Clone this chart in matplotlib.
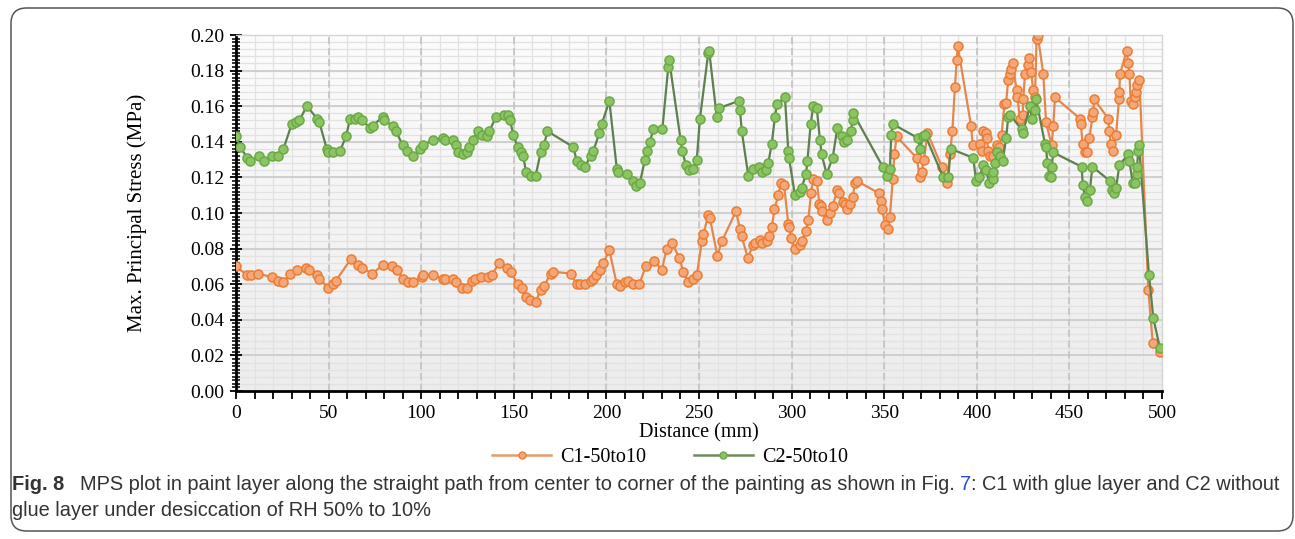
import numpy as np
import matplotlib.pyplot as plt
from matplotlib.lines import Line2D
from matplotlib.patches import FancyBboxPatch
from matplotlib.ticker import MultipleLocator, FormatStrFormatter

# C1-50to10 (with glue layer)
c1_x = [0, 6.1, 7.9, 11.7, 19.3, 22.9, 25.6, 29.2, 32.8, 37.8, 39.4, 43.9, 45.0, 49.9, 52.2, 54.0,
        61.9, 66.0, 68.2, 73.6, 79.6, 84.4, 86.8, 90.3, 93.0, 95.7, 100.3, 101.1, 106.5, 111.9, 112.9,
        117.0, 118.8, 121.9, 124.6, 127.3, 129.0, 132.1, 136.2, 138.0, 142.2, 146.5, 148.3, 152.1,
        154.3, 156.6, 158.7, 161.8, 164.5, 166.3, 169.9, 171.3, 180.7, 184.0, 185.7, 188.4, 191.5,
        193.0, 194.4, 196.5, 198.3, 201.6, 205.6, 207.3, 210.0, 211.8, 214.5, 217.8, 221.2, 225.9,
        229.9, 232.6, 235.3, 239.4, 241.5, 244.2, 246.6, 248.8, 251.5, 252.4, 255.0, 255.9, 259.9,
        262.3, 270.0, 272.1, 273.0, 276.3, 279.3, 280.2, 282.9, 283.9, 286.5, 287.9, 289.3, 290.7,
        292.8, 294.3, 295.9, 298.2, 298.8, 299.7, 301.8, 304.5, 305.4, 307.8, 309.0, 310.5, 311.7,
        313.6, 315.0, 315.7, 316.2, 318.9, 320.7, 322.2, 324.7, 325.8, 327.6, 328.8, 330.1, 331.5,
        333.0, 334.2, 335.2, 347.4, 348.1, 349.0, 350.4, 351.9, 353.1, 354.6, 355.5, 356.7, 367.5,
        369.3, 370.2, 371.5, 373.3, 381.1, 383.8, 385.5, 386.8, 388.2, 389.2, 389.7, 396.9, 397.8,
        401.8, 402.7, 403.5, 405.0, 405.3, 406.3, 407.1, 408.9, 410.7, 412.1, 413.4, 414.9, 415.8,
        417.0, 418.0, 418.5, 419.4, 421.5, 421.9, 423.3, 424.8, 425.1, 426.0, 427.8, 428.2, 429.3,
        430.5, 431.4, 432.3, 432.9, 435.9, 437.4, 440.4, 441.3, 442.2, 455.7, 456.1, 457.2, 458.4,
        459.3, 460.8, 462.4, 462.9, 463.3, 471.0, 471.5, 472.3, 473.4, 475.2, 476.8, 477.0, 477.3,
        480.9, 481.8, 482.4, 483.1, 484.5, 485.4, 486.0, 486.7, 487.8, 492.6, 495.0, 498.9]
c1_y = [0.070, 0.065, 0.065, 0.066, 0.064, 0.062, 0.061, 0.066, 0.068, 0.069, 0.068, 0.065, 0.063,
        0.058, 0.060, 0.062, 0.074, 0.071, 0.069, 0.066, 0.071, 0.070, 0.068, 0.063, 0.061, 0.061,
        0.064, 0.065, 0.065, 0.063, 0.063, 0.063, 0.061, 0.058, 0.058, 0.062, 0.063, 0.064, 0.064,
        0.065, 0.072, 0.069, 0.067, 0.060, 0.058, 0.053, 0.051, 0.050, 0.057, 0.059, 0.066, 0.067,
        0.066, 0.060, 0.060, 0.060, 0.062, 0.063, 0.065, 0.068, 0.072, 0.079, 0.060, 0.059, 0.061,
        0.062, 0.060, 0.060, 0.070, 0.073, 0.068, 0.080, 0.083, 0.075, 0.067, 0.061, 0.063, 0.065,
        0.084, 0.088, 0.099, 0.097, 0.076, 0.084, 0.101, 0.091, 0.087, 0.075, 0.082, 0.083, 0.085,
        0.083, 0.084, 0.087, 0.092, 0.102, 0.110, 0.117, 0.116, 0.094, 0.092, 0.086, 0.080, 0.082,
        0.084, 0.090, 0.096, 0.111, 0.119, 0.118, 0.105, 0.104, 0.101, 0.096, 0.100, 0.104, 0.113,
        0.111, 0.106, 0.105, 0.102, 0.105, 0.109, 0.117, 0.118, 0.111, 0.107, 0.102, 0.093, 0.091,
        0.098, 0.119, 0.133, 0.143, 0.131, 0.120, 0.123, 0.130, 0.145, 0.126, 0.117, 0.133, 0.146,
        0.171, 0.186, 0.194, 0.149, 0.138, 0.139, 0.135, 0.146, 0.145, 0.142, 0.135, 0.132, 0.132,
        0.138, 0.137, 0.144, 0.161, 0.162, 0.175, 0.178, 0.181, 0.184, 0.169, 0.165, 0.153, 0.155,
        0.164, 0.178, 0.183, 0.187, 0.179, 0.169, 0.165, 0.198, 0.200, 0.178, 0.151, 0.138, 0.149,
        0.165, 0.153, 0.150, 0.139, 0.134, 0.134, 0.142, 0.154, 0.157, 0.164, 0.153, 0.146, 0.139,
        0.135, 0.144, 0.164, 0.168, 0.178, 0.191, 0.184, 0.178, 0.163, 0.161, 0.165, 0.168, 0.172,
        0.175, 0.057, 0.027, 0.022]

# C2-50to10 (without glue layer)
c2_x = [0, 2.2, 6.1, 7.6, 12.6, 15.3, 19.3, 22.9, 25.6, 30.1, 32.4, 34.2, 38.2, 43.9, 45.0, 49.0,
        49.9, 52.5, 56.2, 59.4, 61.6, 64.3, 66.0, 67.9, 72.4, 73.8, 79.2, 79.9, 84.6, 86.4, 90.0,
        92.2, 95.4, 99.4, 101.1, 106.2, 111.9, 112.9, 117.0, 118.8, 120.0, 122.4, 124.6, 126.0,
        127.8, 130.8, 132.7, 135.3, 136.8, 140.4, 144.7, 147.0, 148.0, 149.7, 152.1, 153.7, 155.1,
        156.6, 159.1, 161.8, 164.5, 166.3, 168.1, 182.2, 184.0, 186.3, 188.4, 191.5, 193.0, 196.2,
        197.5, 201.6, 205.6, 206.4, 211.0, 214.2, 216.0, 218.1, 220.8, 222.1, 223.5, 225.3, 230.2,
        233.4, 233.9, 240.1, 240.9, 242.9, 244.8, 246.9, 248.8, 250.5, 255.0, 255.5, 259.6, 261.0,
        271.6, 272.1, 273.1, 276.6, 279.3, 282.6, 283.8, 286.2, 287.4, 289.3, 291.0, 292.0, 296.4,
        298.2, 298.6, 301.8, 304.5, 305.4, 307.8, 308.5, 310.3, 311.7, 313.6, 315.3, 316.2, 318.9,
        322.2, 324.7, 327.0, 328.3, 330.0, 331.9, 333.0, 333.3, 349.2, 351.3, 353.1, 353.8, 354.6,
        368.4, 369.3, 371.1, 372.0, 381.9, 384.6, 385.9, 398.1, 399.6, 401.4, 403.5, 405.0, 406.8,
        408.6, 408.9, 409.8, 411.1, 412.5, 414.0, 415.8, 417.0, 418.0, 424.2, 424.8, 428.7, 429.6,
        431.4, 432.0, 436.8, 437.4, 438.1, 439.2, 439.9, 440.4, 441.3, 456.6, 457.2, 458.4, 459.3,
        461.1, 462.4, 471.9, 472.9, 474.1, 475.2, 477.0, 481.8, 482.4, 484.2, 485.4, 486.3, 486.5,
        487.2, 487.6, 493.0, 495.3, 498.9]
c2_y = [0.143, 0.137, 0.131, 0.129, 0.132, 0.129, 0.132, 0.132, 0.136, 0.150, 0.151, 0.152, 0.160,
        0.153, 0.151, 0.136, 0.134, 0.134, 0.135, 0.143, 0.153, 0.153, 0.154, 0.152, 0.148, 0.149,
        0.154, 0.152, 0.149, 0.146, 0.138, 0.135, 0.132, 0.136, 0.138, 0.141, 0.142, 0.141, 0.141,
        0.138, 0.134, 0.133, 0.134, 0.137, 0.141, 0.146, 0.144, 0.143, 0.146, 0.154, 0.155, 0.155,
        0.152, 0.144, 0.137, 0.134, 0.132, 0.123, 0.121, 0.121, 0.134, 0.138, 0.146, 0.137, 0.129,
        0.127, 0.126, 0.132, 0.135, 0.145, 0.150, 0.163, 0.125, 0.123, 0.122, 0.118, 0.115, 0.117,
        0.130, 0.135, 0.140, 0.147, 0.147, 0.182, 0.186, 0.141, 0.135, 0.127, 0.124, 0.125, 0.130,
        0.153, 0.190, 0.191, 0.154, 0.159, 0.163, 0.158, 0.146, 0.121, 0.125, 0.126, 0.123, 0.124,
        0.128, 0.139, 0.154, 0.161, 0.165, 0.135, 0.131, 0.110, 0.112, 0.114, 0.122, 0.129, 0.150,
        0.160, 0.159, 0.141, 0.133, 0.122, 0.131, 0.148, 0.143, 0.140, 0.141, 0.146, 0.152, 0.156,
        0.126, 0.121, 0.125, 0.144, 0.150, 0.142, 0.136, 0.143, 0.144, 0.120, 0.120, 0.136, 0.131,
        0.118, 0.120, 0.127, 0.124, 0.117, 0.119, 0.123, 0.128, 0.134, 0.132, 0.129, 0.142, 0.154,
        0.155, 0.147, 0.145, 0.160, 0.153, 0.158, 0.164, 0.139, 0.137, 0.128, 0.121, 0.120, 0.126,
        0.134, 0.126, 0.116, 0.109, 0.107, 0.113, 0.126, 0.118, 0.113, 0.111, 0.114, 0.127, 0.133,
        0.129, 0.117, 0.117, 0.122, 0.126, 0.135, 0.138, 0.065, 0.041, 0.024]

labels = ['C1-50to10', 'C2-50to10']

serif = ['Liberation Serif', 'DejaVu Serif']
sans = ['Liberation Sans', 'DejaVu Sans']
W, H = 1295, 539

fig = plt.figure(figsize=(W / 100, H / 100), dpi=100)
ax = fig.add_axes([236 / W, 1 - 391 / H, 926 / W, 356 / H])

# soft grey gradient behind the plot
grad = np.linspace(0.985, 0.925, 256).reshape(-1, 1)
ax.imshow(grad, cmap='gray', vmin=0, vmax=1, aspect='auto',
          extent=[0, 500, 0, 0.20], origin='upper', zorder=0)

for yy in np.arange(0.004, 0.2, 0.004):
    ax.axhline(yy, color='#e2e2e2', lw=0.9, zorder=1)
for xx in np.arange(10, 500, 10):
    ax.axvline(xx, color='#e2e2e2', lw=0.9, zorder=1)
for yy in np.arange(0.02, 0.2001, 0.02):
    ax.axhline(yy, color='#cdcdcd', lw=1.3, zorder=1)
for xx in np.arange(50, 500, 50):
    ax.axvline(xx, color='#c6c6c6', lw=1.3, ls=(0, (4, 2)), zorder=1)

ax.plot(c1_x, c1_y, color='#E4874F', lw=1.6, marker='o', ms=6.5,
        mfc='#F4A77A', mec='#ED7D31', mew=1.1, zorder=3)
ax.plot(c2_x, c2_y, color='#5E7F4E', lw=1.6, marker='o', ms=6.5,
        mfc='#8DC463', mec='#6AAA45', mew=1.1, zorder=4)

ax.set_xlim(0, 500)
ax.set_ylim(0, 0.20)
ax.xaxis.set_major_locator(MultipleLocator(50))
ax.xaxis.set_minor_locator(MultipleLocator(10))
ax.yaxis.set_major_locator(MultipleLocator(0.02))
ax.yaxis.set_minor_locator(MultipleLocator(0.002))
ax.yaxis.set_major_formatter(FormatStrFormatter('%.2f'))
ax.tick_params(axis='x', which='both', direction='out', length=6, width=1.3, color='black')
ax.tick_params(axis='y', which='major', direction='inout', length=9, width=1.3)
ax.tick_params(axis='y', which='minor', direction='inout', length=6, width=1.1)
ax.tick_params(labelsize=14, pad=4)
for lab in ax.get_xticklabels() + ax.get_yticklabels():
    lab.set_family(serif)

for side in ['left', 'bottom']:
    ax.spines[side].set_linewidth(2)
    ax.spines[side].set_color('black')
for side in ['top', 'right']:
    ax.spines[side].set_color('#d4d4d4')
    ax.spines[side].set_linewidth(1)

ax.set_xlabel('Distance (mm)', family=serif, fontsize=14.5, labelpad=1)
ax.set_ylabel('Max. Principal Stress (MPa)', family=serif, fontsize=15, labelpad=31)

handles = [
    Line2D([], [], color='#E89A6C', lw=1.8, marker='o', ms=5, mfc='#F4A77A', mec='#ED7D31'),
    Line2D([], [], color='#6E8C5E', lw=1.8, marker='o', ms=5, mfc='#8DC463', mec='#6AAA45'),
]
fig.legend(handles, labels, loc='center', bbox_to_anchor=(670 / W, 1 - 457 / H), ncol=2,
           frameon=False, prop={'family': serif, 'size': 14.5}, handlelength=2.9,
           handletextpad=0.45, columnspacing=2.4)

# caption, laid out piece by piece so the first line spans the frame width
renderer = fig.canvas.get_renderer()
line1 = [('Fig. 8', {'fontweight': 'bold', 'color': '#333333'}, 16),
         ('MPS plot in paint layer along the straight path from center to corner of '
          'the painting as shown in Fig.', {'color': '#333333'}, 5),
         ('7', {'color': '#2b4bd6'}, 0),
         (': C1 with glue layer and C2 without', {'color': '#333333'}, 0)]
line2 = [('glue layer under desiccation of RH 50% to 10%', {'color': '#333333'}, 0)]
gaps = sum(p[2] for p in line1)


def place(pieces, x0, yc, size):
    x = x0
    for s, kw, gap in pieces:
        t = fig.text(x / W, 1 - yc / H, s, fontsize=size, family=sans, va='center', **kw)
        x = t.get_window_extent(renderer).x1 + gap
    return x


probe = place(line1, 12, -100, 10)
for t in list(fig.texts):
    t.remove()
cap_size = 10 * (1283 - 12 - gaps) / (probe - 12 - gaps)
place(line1, 12, 485, cap_size)
place(line2, 12, 511, cap_size)

# rounded frame around the figure
frame = FancyBboxPatch((11 / W, 8 / H), (1293 - 11) / W, 1 - 16 / H,
                       boxstyle='round,pad=0,rounding_size=0.012',
                       transform=fig.transFigure, fill=False, ec='#555555', lw=1.1,
                       mutation_aspect=W / H)
fig.patches.append(frame)

fig.savefig('out.png', dpi=100)
